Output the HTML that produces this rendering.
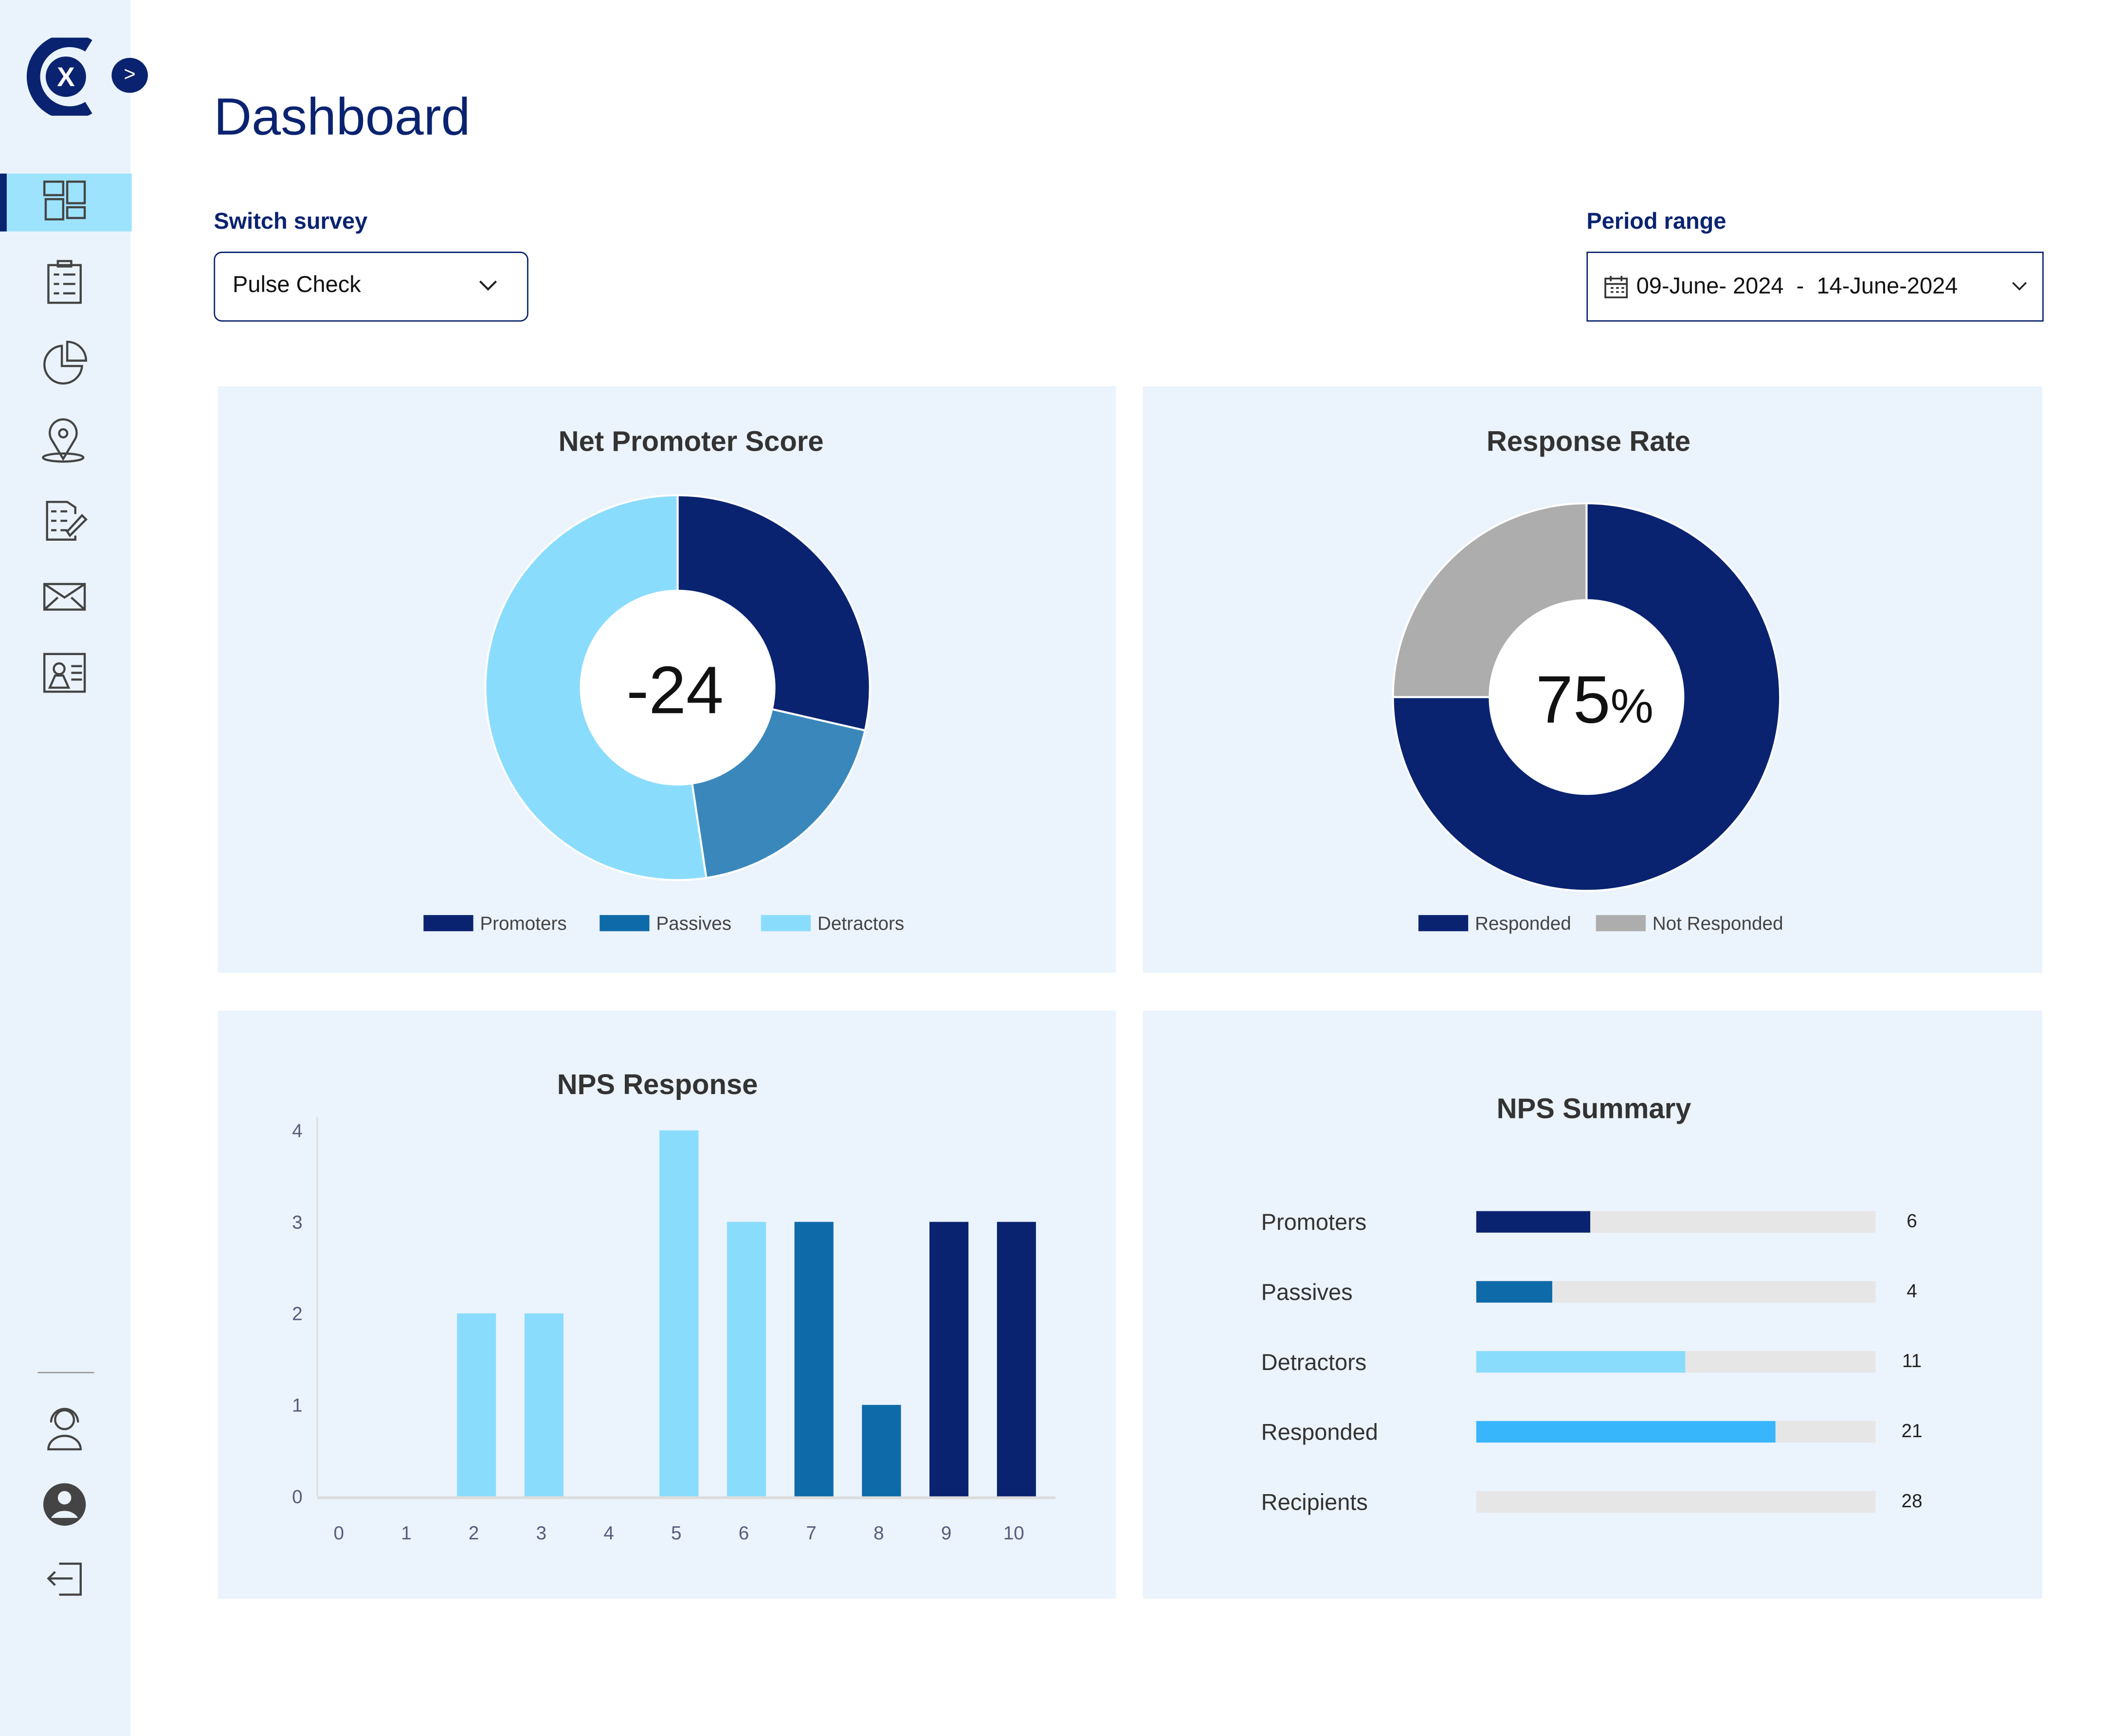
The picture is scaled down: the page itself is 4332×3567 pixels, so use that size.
<!DOCTYPE html>
<html><head><meta charset="utf-8">
<style>
html,body{margin:0;padding:0;background:#fff;}
body{width:4332px;height:3555px;overflow:hidden;font-family:"Liberation Sans",sans-serif;}
#wrap{position:absolute;left:0;top:0;width:1568px;height:1290px;transform-origin:0 0;transform:scale(2.763,2.765);}
.abs{position:absolute;}
.card{position:absolute;background:#ebf3fc;}
.ttl{position:absolute;font-weight:bold;font-size:21px;color:#333;text-align:center;width:100%;}
</style></head><body>
<div id="wrap">
  <div class="abs" style="left:0;top:0;width:97px;height:1290px;background:#eaf3fc;"></div>
  <svg class="abs" style="left:18px;top:28px" width="56" height="58" viewBox="0 0 56 58">
    <path d="M48 6 A27 27 0 1 0 48 52" fill="none" stroke="#0a2370" stroke-width="10"/>
    <circle cx="31" cy="29" r="15" fill="#0a2370"/>
    <text x="31" y="36" text-anchor="middle" font-size="20" font-weight="bold" fill="#fff" font-family="Liberation Sans">X</text>
  </svg>
  <div class="abs" style="left:83px;top:43px;width:27px;height:26px;border-radius:50%;background:#0a2370;color:#fff;font-size:15px;line-height:25px;text-align:center;">&gt;</div>
  <div class="abs" style="left:0;top:129px;width:98px;height:43px;background:#9ee3fd;border-left:5px solid #0a2370;box-sizing:border-box;"></div>
  <svg class="abs" style="left:28px;top:130px" width="42" height="1060" viewBox="0 0 42 1060" fill="none" stroke="#444" stroke-width="1.6">
    <g><rect x="5" y="5" width="14" height="10"/><rect x="6" y="18" width="13" height="15"/><rect x="22" y="5" width="13" height="16"/><rect x="22" y="24" width="13" height="8"/></g>
    <g><rect x="8" y="67" width="24" height="28"/><rect x="15" y="64" width="10" height="4"/><path d="M12 74h4M19 74h9M12 81h4M19 81h9M12 88h4M19 88h9"/></g>
    <g><path d="M18 127 A14 14 0 1 0 33 142 L18 142 Z"/><path d="M22 124 A14 14 0 0 1 36 138 L22 138 Z"/></g>
    <g><path d="M19 211 L10 196 A10 10 0 1 1 28 196 Z"/><circle cx="19" cy="192" r="3"/><ellipse cx="19" cy="210" rx="15" ry="3"/></g>
    <g><path d="M28 252 V247 L22 243 H7 V271 H28 V268"/><path d="M10 250h4M17 250h5M10 257h4M17 257h5M10 264h4M17 264h5M24 268 L36 256 L33 253 L22 265 Z"/></g>
    <g><rect x="5" y="304" width="30" height="19"/><path d="M5 304 L20 314 L35 304M5 323 L15 314M35 323 L25 314"/></g>
    <g><rect x="5" y="356" width="30" height="28"/><circle cx="16" cy="367" r="4"/><path d="M9 381 L13 372 H19 L23 381 ZM25 365h8M25 370h8M25 375h8"/></g>
    <line x1="-28" y1="890" x2="65" y2="890" stroke="#999" stroke-width="1"/>
    <g><circle cx="20" cy="925" r="7"/><path d="M10 927 A10 10 0 0 1 30 927M8 947 A12 10 0 0 1 32 947 Z"/></g>
    <g><circle cx="20" cy="988" r="15" fill="#444"/><circle cx="20" cy="983" r="5" fill="#eaf3fc" stroke="none"/><path d="M10 998 A11 9 0 0 1 30 998" fill="#eaf3fc" stroke="none"/></g>
    <g><path d="M16 1032 H32 V1055 H16M8 1043 H26M13 1038 L8 1043 L13 1048"/></g>
  </svg>

  <div class="abs" style="left:159px;top:66px;font-size:39px;color:#0a2370;">Dashboard</div>
  <div class="abs" style="left:159px;top:155px;font-size:17px;font-weight:bold;color:#0a2370;">Switch survey</div>
  <div class="abs" style="left:159px;top:187px;width:234px;height:52px;border:1.5px solid #0a2370;border-radius:6px;box-sizing:border-box;background:#fff;">
    <span class="abs" style="left:13px;top:14px;font-size:17px;color:#111;">Pulse Check</span>
    <svg class="abs" style="left:196px;top:19px" width="14" height="10"><path d="M1 2 L7 8 L13 2" fill="none" stroke="#222" stroke-width="1.5"/></svg>
  </div>
  <div class="abs" style="left:1180px;top:155px;font-size:17px;font-weight:bold;color:#0a2370;">Period range</div>
  <div class="abs" style="left:1180px;top:187px;width:340px;height:52px;border:1.5px solid #0a2370;box-sizing:border-box;background:#fff;">
    <svg class="abs" style="left:12px;top:16px" width="18" height="18" fill="none" stroke="#333" stroke-width="1.3"><rect x="1" y="3" width="16" height="14"/><path d="M1 7h16M5 1v4M13 1v4M5 10h2M9 10h2M13 10h2M5 13h2M9 13h2M13 13h2"/></svg>
    <span class="abs" style="left:36px;top:15px;font-size:17px;color:#111;white-space:pre;">09-June- 2024  -  14-June-2024</span>
    <svg class="abs" style="left:315px;top:21px" width="12" height="8"><path d="M1 1 L6 6 L11 1" fill="none" stroke="#222" stroke-width="1.3"/></svg>
  </div>

  <div class="card" style="left:162px;top:287px;width:668px;height:436px;">
    <div class="ttl" style="top:30px;left:18px;">Net Promoter Score</div>
  </div>
  <div class="card" style="left:850px;top:287px;width:669px;height:436px;">
    <div class="ttl" style="top:30px;left:-3px;">Response Rate</div>
  </div>
  <div class="card" style="left:162px;top:751px;width:668px;height:437px;">
    <div class="ttl" style="top:44px;left:-7px;">NPS Response</div>
  </div>
  <div class="card" style="left:850px;top:751px;width:669px;height:437px;">
    <div class="ttl" style="top:62px;left:1px;">NPS Summary</div>
  </div>

  <svg id="charts" class="abs" style="left:0;top:0" width="1568" height="1290" font-family="Liberation Sans"></svg>
</div>
<script>
// NPS donut data
const npsLabels = ["Promoters","Passives","Detractors"];
const npsValues = [6,4,11];
const npsColors = ["#0a2370","#3a88bb","#8adcfd"];
const npsLegendColors = ["#0a2370","#0e6aa8","#8adcfd"];
const npsScore = "-24";
// Response rate data
const rrLabels = ["Responded","Not Responded"];
const rrValues = [75,25];
const rrColors = ["#0a2370","#adadad"];
// NPS response bar data
const barCategories = ["0","1","2","3","4","5","6","7","8","9","10"];
const barValues = [0,0,2,2,0,4,3,3,1,3,3];
const yTicks = [0,1,2,3,4];
// NPS summary data
const sumLabels = ["Promoters","Passives","Detractors","Responded","Recipients"];
const sumValues = [6,4,11,21,28];
const sumBase = [21,21,21,28,0];
const sumColors = ["#0a2370","#0e6aa8","#8adcfd","#38b6fc","none"];

const NS="http://www.w3.org/2000/svg";
const svg=document.getElementById('charts');
function mk(t,a,p){const e=document.createElementNS(NS,t);for(const k in a)e.setAttribute(k,a[k]);(p||svg).appendChild(e);return e;}

function donut(cx,cy,R,r,vals,cols,name){
  const tot=vals.reduce((a,b)=>a+b,0);let a0=0;
  vals.forEach((v,i)=>{
    const a1=a0+v/tot*2*Math.PI;
    const p=(ang,rad)=>[cx+rad*Math.sin(ang),cy-rad*Math.cos(ang)];
    const [x0,y0]=p(a0,R),[x1,y1]=p(a1,R),[x2,y2]=p(a1,r),[x3,y3]=p(a0,r);
    const lg=(a1-a0)>Math.PI?1:0;
    const e=mk('path',{d:`M${x0} ${y0}A${R} ${R} 0 ${lg} 1 ${x1} ${y1}L${x2} ${y2}A${r} ${r} 0 ${lg} 0 ${x3} ${y3}Z`,fill:cols[i],stroke:'#fff','stroke-width':1.5});
    
    
    a0=a1;
  });
  mk('circle',{cx,cy,r:r,fill:'#fff'});
}
function legend(items,cols,x0,y,gaps){
  let x=x0;
  items.forEach((t,i)=>{
    const s=mk('rect',{x,y:y-6,width:37,height:12,fill:cols[i]});
    
    
    const tx=mk('text',{x:x+42,y:y+5,'font-size':14,fill:'#444'});tx.textContent=t;
    
    
    x+=gaps[i];
  });
}
donut(504,511,143,72,npsValues,npsColors,'nps');
let t=mk('text',{x:502,y:530,'font-size':50,'text-anchor':'middle',fill:'#111'});t.textContent=npsScore;


legend(npsLabels,npsLegendColors,315,686,[131,120,0]);

donut(1180,518,144,72,rrValues,rrColors,'response-rate');
t=mk('text',{x:1186,y:537,'font-size':50,'text-anchor':'middle',fill:'#111'});
t.innerHTML=rrValues[0]+'<tspan font-size="36">%</tspan>';


legend(rrLabels,rrColors,1055,686,[132,0]);

// bar chart
const X0=252, DX=50.2, Y0=1112, DY=68, BW=29;
const xs=i=>X0+i*DX, ys=v=>Y0-v*DY;
mk('line',{x1:236,y1:830,x2:236,y2:Y0,stroke:'#dcdcdc','stroke-width':1});
yTicks.forEach(v=>{const e=mk('text',{x:225,y:ys(v)+5,'font-size':14,'text-anchor':'end',fill:'#5a5a7a'});e.textContent=v;
  
  });
barCategories.forEach((c,i)=>{
  const col=i<=6?'#8adcfd':(i<=8?'#0e6aa8':'#0a2370');
  const v=barValues[i];
  if(v>0){const b=mk('rect',{x:xs(i)+2-BW/2,y:ys(v),width:BW,height:v*DY,fill:col});
    
    }
  const e=mk('text',{x:xs(i),y:1144,'font-size':14,'text-anchor':'middle',fill:'#5a5a7a'});e.textContent=c;
  
  
});
mk('line',{x1:236,y1:Y0+1,x2:785,y2:Y0+1,stroke:'#dcdcdc','stroke-width':2});

// summary
const TX=1098, TW=297, RY0=908, RDY=52;
sumLabels.forEach((l,i)=>{
  const y=RY0+i*RDY;
  const lt=mk('text',{x:938,y:y+6,'font-size':17,fill:'#333'});lt.textContent=l;
  
  
  const tr=mk('rect',{x:TX,y:y-8,width:TW,height:16,fill:'#e6e6e6'});
  
  
  if(sumBase[i]>0){const f=mk('rect',{x:TX,y:y-8,width:TW*sumValues[i]/sumBase[i]*0.999,height:16,fill:sumColors[i]});
    
    }
  const vt=mk('text',{x:1422,y:y+4,'font-size':14,'text-anchor':'middle',fill:'#222'});vt.textContent=sumValues[i];
  
  
});
</script>
</body></html>
